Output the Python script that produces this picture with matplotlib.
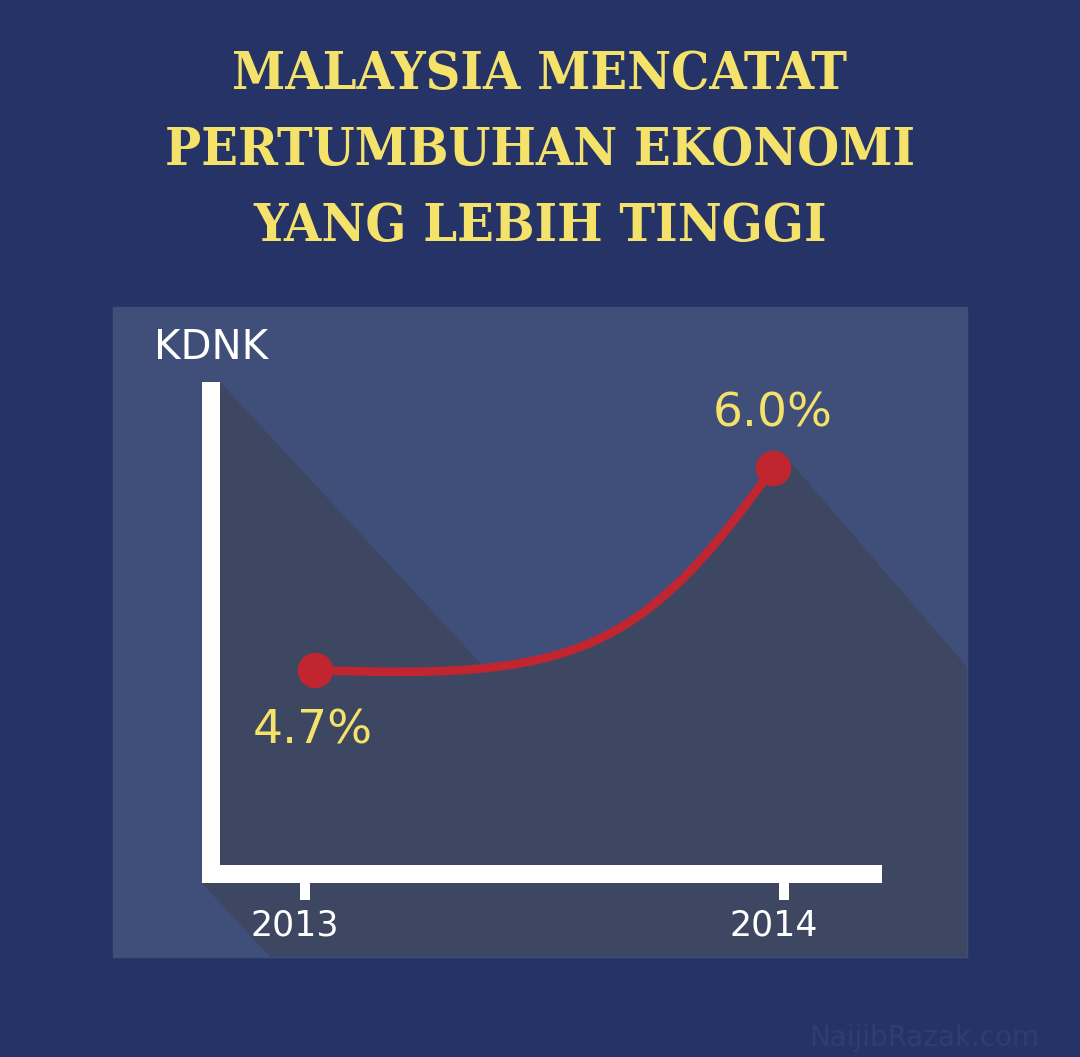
import matplotlib.pyplot as plt
from matplotlib.patches import Rectangle, Polygon, PathPatch
from matplotlib.path import Path

# chart data
years = [2013, 2014]
year_labels = ['2013', '2014']
gdp = [4.7, 6.0]
gdp_labels = ['4.7%', '6.0%']
title_lines = ['MALAYSIA MENCATAT', 'PERTUMBUHAN EKONOMI', 'YANG LEBIH TINGGI']
y_title = 'KDNK'
watermark = 'NaijibRazak.com'

# colours
BG = '#263366'
PANEL = '#404f7a'
SHADOW = '#3d4762'
RED = '#c1252f'
YELLOW = '#f5e26b'
WHITE = '#ffffff'

W, H = 1080, 1057
fig = plt.figure(figsize=(W / 100, H / 100), dpi=100)
fig.patch.set_facecolor(BG)

# background layer in pixel coordinates (y down)
bg = fig.add_axes([0, 0, 1, 1])
bg.set_xlim(0, W)
bg.set_ylim(H, 0)
bg.axis('off')

# data layer: marker centres sit at these pixel spots
ax = fig.add_axes([315 / W, (H - 670) / H, 458 / W, 202 / H])
ax.set_xlim(years[0], years[1])
ax.set_ylim(gdp[0], gdp[1])
ax.axis('off')
ax.patch.set_alpha(0)

# title
for i, line in enumerate(title_lines):
    bg.text(540, 75 + i * 76, line, ha='center', va='center', color=YELLOW,
            fontsize=38.5, fontweight='bold', family='DejaVu Serif', fontstretch='condensed')

# panel
bg.add_patch(Rectangle((113, 307), 854, 650, color=PANEL, zorder=1))

# connector curve through the two data points (cubic bezier)
dx = years[1] - years[0]
dy = gdp[1] - gdp[0]
verts = [(years[0], gdp[0]),
         (years[0] + 0.56 * dx, gdp[0] - 0.05 * dy),
         (years[0] + 0.71 * dx, gdp[0] + 0.075 * dy),
         (years[1], gdp[1])]
curve = Path(verts, [Path.MOVETO, Path.CURVE4, Path.CURVE4, Path.CURVE4])

# long shadows (light from top-left)
s1, s2 = 1.08, 1.16
fig.canvas.draw()
to_bg = bg.transData.inverted()
poly = curve.to_polygons(transform=ax.transData, closed_only=False)[0]
curve_px = [tuple(p) for p in to_bg.transform(poly)]
ex, ey = curve_px[-1]
sx, sy = curve_px[0]
tip = (ex + 13, ey - 11)
low = (sx - 13, sy + 11)
shadow_curve = curve_px + [tip, (967, tip[1] + (967 - tip[0]) * s2), (967, 957),
                           (low[0] + (957 - low[1]) / s2, 957), low]
bg.add_patch(Polygon(shadow_curve, closed=True, color=SHADOW, lw=0, zorder=2))
shadow_bar = [(202, 382), (220, 382), (220 + (957 - 382) / s1, 957),
              (202 + (957 - 883) / s1, 957), (202, 883)]
bg.add_patch(Polygon(shadow_bar, closed=True, color=SHADOW, lw=0, zorder=2))
shadow_base = [(202, 883), (882, 883), (882 + 74 / s1, 957), (202 + 74 / s1, 957)]
bg.add_patch(Polygon(shadow_base, closed=True, color=SHADOW, lw=0, zorder=2))

# white axis frame with ticks
bg.add_patch(Rectangle((202, 382), 18, 501, color=WHITE, lw=0, zorder=3))
bg.add_patch(Rectangle((202, 865), 680, 18, color=WHITE, lw=0, zorder=3))
tick_px = [305, 784]
for tx, lab in zip(tick_px, year_labels):
    bg.add_patch(Rectangle((tx - 5, 880), 10, 20, color=WHITE, lw=0, zorder=3))
    bg.text(tx - 10, 926, lab, ha='center', va='center', color=WHITE,
            fontsize=25, zorder=4)
bg.text(211, 348, y_title, ha='center', va='center', color=WHITE, fontsize=29, zorder=4)

# data line and points
ax.add_patch(PathPatch(curve, facecolor='none', edgecolor=RED, lw=6.2,
                       capstyle='round', clip_on=False, zorder=5))
ax.plot(years, gdp, 'o', color=RED, markersize=24.5, clip_on=False, zorder=6)

# value labels
offsets = [(-1.5, -44), (0, 39)]
for x, y, lab, off in zip(years, gdp, gdp_labels, offsets):
    ax.annotate(lab, (x, y), xytext=off, textcoords='offset points', ha='center',
                va='center', color=YELLOW, fontsize=34, annotation_clip=False, zorder=7)

# watermark
bg.text(924, 1038, watermark, ha='center', va='center', color='#2f3e72', fontsize=20)

fig.savefig('out.png', dpi=100, facecolor=BG)
